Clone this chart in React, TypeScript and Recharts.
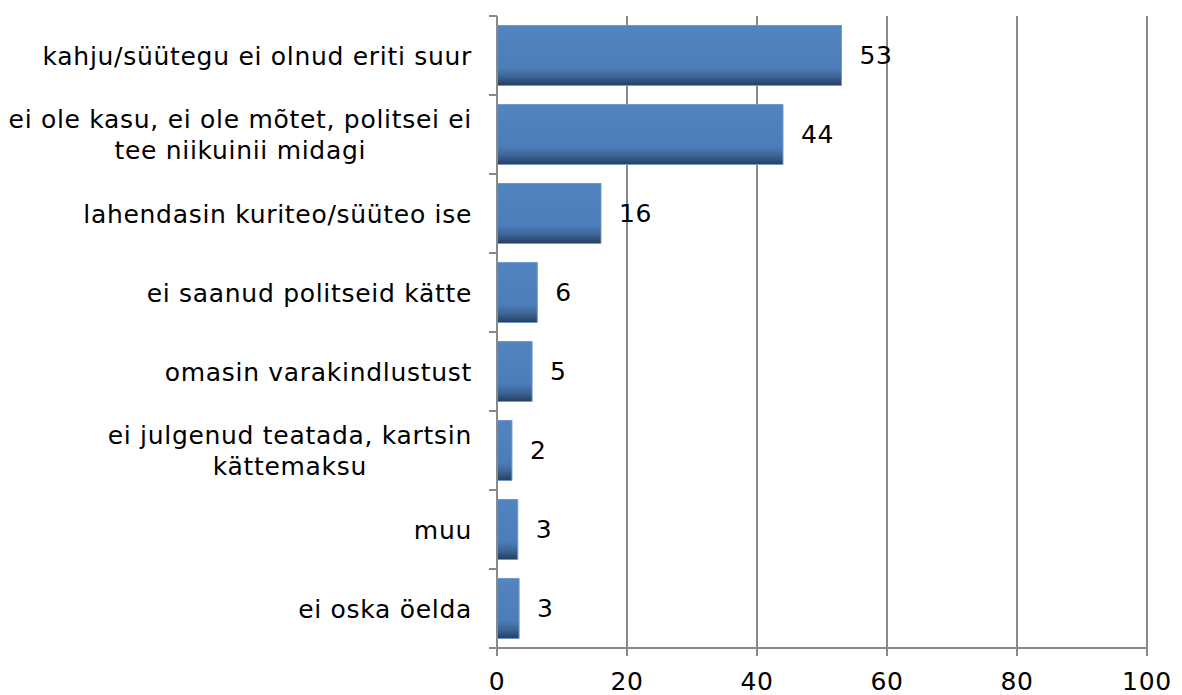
import { BarChart, Bar, XAxis, YAxis, CartesianGrid, LabelList } from 'recharts';

const categories = [
  'kahju/süütegu ei olnud eriti suur',
  'ei ole kasu, ei ole mõtet, politsei ei|tee niikuinii midagi',
  'lahendasin kuriteo/süüteo ise',
  'ei saanud politseid kätte',
  'omasin varakindlustust',
  'ei julgenud teatada, kartsin|kättemaksu',
  'muu',
  'ei oska öelda',
];
const values = [53, 44, 16, 6.2, 5.4, 2.3, 3.2, 3.4];
const xTicks = [0, 20, 40, 60, 80, 100];

const data = categories.map((c, i) => ({ name: c, value: values[i] }));

const FONT = '"DejaVu Sans", Verdana, sans-serif';
const FS = 25;
const LS = 0.7;
const GRAY = '#898989';

let ctx: CanvasRenderingContext2D | null = null;
function textWidth(s: string) {
  if (!ctx) ctx = document.createElement('canvas').getContext('2d');
  if (!ctx) return s.length * FS * 0.6;
  ctx.font = `${FS}px ${FONT}`;
  return ctx.measureText(s).width + s.length * LS;
}

function CategoryTick(props: any) {
  const { x, y, payload, index } = props;
  const lines = String(payload.value).split('|');
  const half = payload.offset ?? 39.5;
  const axisX = x + 8;
  const right = axisX - 25;
  const maxW = Math.max(...lines.map(textWidth));
  const lh = 31;
  const startY = y - ((lines.length - 1) * lh) / 2;
  const multi = lines.length > 1;
  const tx = multi ? right - maxW / 2 : right;
  return (
    <g>
      <line x1={axisX - 8} x2={axisX} y1={y - half} y2={y - half} stroke={GRAY} strokeWidth={2} />
      {index === categories.length - 1 && (
        <line x1={axisX - 8} x2={axisX} y1={y + half} y2={y + half} stroke={GRAY} strokeWidth={2} />
      )}
      <text
        x={tx}
        y={startY}
        textAnchor={multi ? 'middle' : 'end'}
        dominantBaseline="central"
        fontFamily={FONT}
        fontSize={FS}
        letterSpacing={LS}
        fill="#000"
      >
        {lines.map((l, i) => (
          <tspan key={i} x={tx} y={startY + i * lh}>
            {l}
          </tspan>
        ))}
      </text>
    </g>
  );
}

export default function App() {
  return (
    <div style={{ position: 'absolute', left: 0, top: 0, width: 1182, height: 695, background: '#fff' }}>
      <BarChart
        width={1182}
        height={695}
        data={data}
        layout="vertical"
        margin={{ top: 16, right: 35, bottom: 0, left: 0 }}
        barCategoryGap="12%"
      >
        <defs>
          <linearGradient id="barGrad" x1="0" y1="0" x2="0" y2="1">
            <stop offset="0" stopColor="#5284c0" />
            <stop offset="0.7" stopColor="#4c7db9" />
            <stop offset="0.85" stopColor="#3d6597" />
            <stop offset="1" stopColor="#243e60" />
          </linearGradient>
        </defs>
        <CartesianGrid horizontal={false} stroke={GRAY} strokeWidth={2} />
        <XAxis
          type="number"
          domain={[0, 100]}
          ticks={xTicks}
          interval={0}
          height={47}
          axisLine={{ stroke: GRAY, strokeWidth: 2 }}
          tickLine={{ stroke: GRAY, strokeWidth: 2 }}
          tickSize={8}
          tick={{ fill: '#000', fontSize: FS, fontFamily: FONT, letterSpacing: LS }}
          tickMargin={16}
        />
        <YAxis
          type="category"
          dataKey="name"
          width={497}
          axisLine={{ stroke: GRAY, strokeWidth: 2 }}
          tickLine={false}
          tickSize={8}
          tickMargin={0}
          tick={<CategoryTick />}
          interval={0}
        />
        <Bar dataKey="value" fill="url(#barGrad)" stroke="#7099cc" strokeWidth={1} isAnimationActive={false}>
          <LabelList
            dataKey="value"
            position="right"
            offset={18}
            formatter={(v: any) => Math.round(Number(v))}
            fill="#000"
            fontSize={FS}
            fontFamily={FONT}
            letterSpacing={LS}
          />
        </Bar>
      </BarChart>
    </div>
  );
}
